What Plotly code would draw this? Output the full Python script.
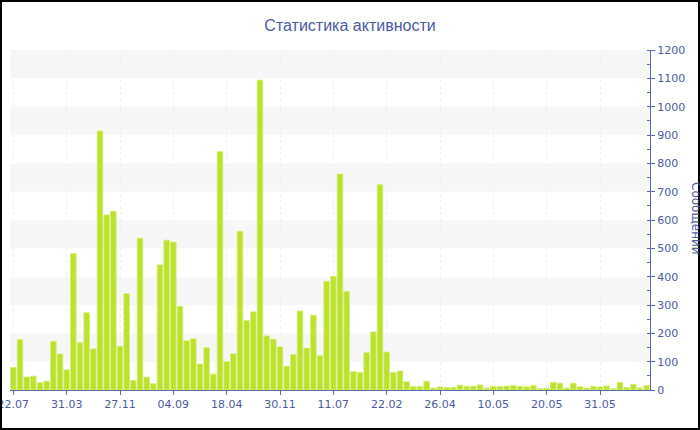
import plotly.graph_objects as go

# ---------------- data ----------------
title_text = "Статистика активности"
y_title = "Сообщений"
tick_labels = ["22.07", "31.03", "27.11", "04.09", "18.04", "30.11",
               "11.07", "22.02", "26.04", "10.05", "20.05", "31.05"]
label_every = 8
messages = [80, 178, 46, 49, 26, 31, 172, 127, 71, 481,
            167, 273, 145, 914, 618, 631, 154, 340, 34, 536,
            46, 22, 442, 529, 522, 296, 174, 181, 92, 149,
            56, 842, 100, 128, 560, 245, 276, 1094, 191, 179,
            152, 84, 126, 279, 148, 264, 121, 384, 401, 762,
            348, 65, 62, 132, 205, 725, 134, 62, 67, 29,
            13, 13, 31, 7, 11, 9, 9, 17, 13, 14,
            18, 7, 13, 12, 14, 16, 13, 11, 16, 5,
            6, 27, 24, 7, 24, 12, 7, 13, 11, 14,
            5, 27, 9, 20, 7, 16]
y_max = 1200
y_step = 100

# ---------------- layout constants ----------------
W, H = 700, 430
ML, MR, MT, MB = 10, 50, 50, 40
PW, PH = W - ML - MR, H - MT - MB

TEXT = "#4b5ba3"
LINE = "#5a6aa8"
FONT = "DejaVu Sans"

idx = list(range(len(messages)))
tickvals = idx[::label_every][:len(tick_labels)]

fig = go.Figure(go.Bar(
    x=idx, y=messages,
    marker=dict(color="#bde22e", line=dict(color="#d6ef7a", width=0.8)),
    hoverinfo="y",
))

shapes = []
for v in range(y_step, y_max, 2 * y_step):
    shapes.append(dict(type="rect", xref="paper", yref="y", x0=0, x1=1,
                       y0=v, y1=v + y_step, fillcolor="#f7f7f7",
                       line=dict(width=0), layer="below"))
# outer black frame
shapes.append(dict(type="rect", xref="paper", yref="paper",
                   x0=(-ML + 1) / PW, x1=1 + (MR - 1) / PW,
                   y0=(-MB + 1) / PH, y1=1 + (MT - 1) / PH,
                   line=dict(color="black", width=2), fillcolor="rgba(0,0,0,0)"))

fig.update_layout(
    template="none",
    width=W, height=H,
    margin=dict(l=ML, r=MR, t=MT, b=MB, pad=0, autoexpand=False),
    paper_bgcolor="white", plot_bgcolor="white",
    bargap=0.15,
    showlegend=False,
    shapes=shapes,
    title=dict(text=title_text, x=0.5, xanchor="center",
               y=1 - 25 / H, yanchor="middle", yref="container",
               automargin=False,
               font=dict(family="Liberation Sans", size=16, color=TEXT)),
    xaxis=dict(range=[-0.5, len(messages) - 0.5], automargin=False,
               tickmode="array", tickvals=tickvals, ticktext=tick_labels,
               tickfont=dict(family=FONT, size=11, color=TEXT),
               ticklabeloverflow="allow",
               showline=True, linecolor=LINE, linewidth=1,
               ticks="outside", ticklen=4, tickcolor=LINE,
               showgrid=True, gridcolor="#f0f0f0", griddash="dot",
               zeroline=False, fixedrange=True),
    yaxis=dict(range=[0, y_max], side="right", dtick=y_step, automargin=False,
               tickfont=dict(family=FONT, size=11, color=TEXT),
               ticklabeloverflow="allow",
               showline=True, linecolor=LINE, linewidth=1,
               ticks="outside", ticklen=4, tickcolor=LINE,
               minor=dict(ticks="inside", ticklen=3, dtick=y_step / 2,
                          tickcolor=LINE, showgrid=False),
               showgrid=False, zeroline=False, fixedrange=True),
    annotations=[dict(text=y_title, xref="paper", yref="paper",
                      x=(696 - ML) / PW, y=(H - MB - 218) / PH,
                      xanchor="center", yanchor="middle",
                      textangle=90, showarrow=False,
                      font=dict(family=FONT, size=12, color=TEXT))],
)

fig.write_html("out.html",
               config={"displayModeBar": False},
               post_script="document.body.style.margin='0';"
                           "document.body.style.overflow='hidden';")
